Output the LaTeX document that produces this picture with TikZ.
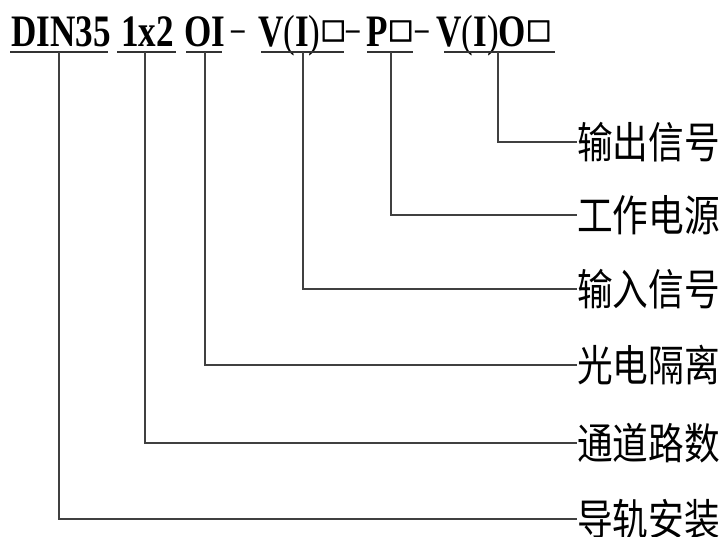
\documentclass[tikz,border=0pt]{standalone}
\usepackage{fontspec}
\setmainfont{Liberation Serif}
\newfontfamily\cjk{Noto Sans CJK SC}
\newfontfamily\symf[FakeBold=2.5]{DejaVu Sans}
\newcommand{\sq}{\raisebox{9pt}{\symf\fontsize{27}{27}\selectfont □}}
\newcommand{\rp}[1]{{\mdseries #1}}
\newcommand{\dsh}{\scalebox{0.6}[1]{\mdseries\raisebox{4pt}{–}}}
\newcommand{\cs}[1]{\scalebox{0.78}[1]{#1}}
\begin{document}
\begin{tikzpicture}[x=1pt,y=-1pt,
  code/.style={anchor=base,inner sep=0pt,font=\fontsize{45}{45}\selectfont\bfseries},
  lab/.style={anchor=west,inner sep=0pt,font=\cjk\fontsize{43}{43}\selectfont},
  uline/.style={line width=1.8pt,black!80},
  conn/.style={line width=1.3pt,black!75}]
\useasboundingbox (0,0) rectangle (722,537);
% code pieces
\node[code] (c1) at (61,47) {\cs{DIN35}};
\node[code] (c2) at (147.5,47) {\cs{1x2}};
\node[code] (c3) at (204.5,47) {\cs{OI}};
\node[code] (d1) at (238,47) {\dsh};
\node[code] (c4) at (302,47) {\cs{V\rp{(}I\rp{)}}\sq};
\node[code] (d2) at (353,47) {\dsh};
\node[code] (c5) at (390,47) {\cs{P}\sq};
\node[code] (d3) at (422,47) {\dsh};
\node[code] (c6) at (494,47) {\cs{V\rp{(}I\rp{)}O}\sq};
% underlines
\draw[uline] (10,52) -- (108,52);
\draw[uline] (117,52) -- (176,52);
\draw[uline] (186,52) -- (222,52);
\draw[uline] (261,52) -- (344,52);
\draw[uline] (367,52) -- (413,52);
\draw[uline] (444,52) -- (555,52);
% label nodes
\node[lab] (l1) at (577,142) {\scalebox{0.83}[1]{输出信号}};
\node[lab] (l2) at (577,215) {\scalebox{0.83}[1]{工作电源}};
\node[lab] (l3) at (577,289) {\scalebox{0.83}[1]{输入信号}};
\node[lab] (l4) at (577,365) {\scalebox{0.83}[1]{光电隔离}};
\node[lab] (l5) at (577,443) {\scalebox{0.83}[1]{通道路数}};
\node[lab] (l6) at (577,519) {\scalebox{0.83}[1]{导轨安装}};
% connector start points
\coordinate (u1) at (59,52);
\coordinate (u2) at (145,52);
\coordinate (u3) at (205,52);
\coordinate (u4) at (303,52);
\coordinate (u5) at (391,52);
\coordinate (u6) at (498,52);
\draw[conn] (u6) |- (l1.west);
\draw[conn] (u5) |- (l2.west);
\draw[conn] (u4) |- (l3.west);
\draw[conn] (u3) |- (l4.west);
\draw[conn] (u2) |- (l5.west);
\draw[conn] (u1) |- (l6.west);
\end{tikzpicture}
\end{document}
